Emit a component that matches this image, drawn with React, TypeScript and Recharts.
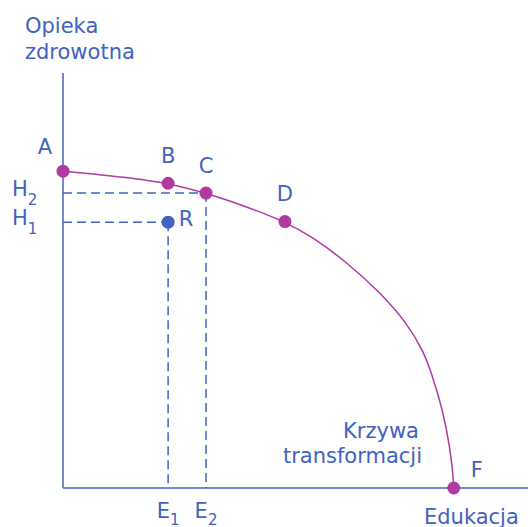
import React from "react";
import {
  ComposedChart,
  Line,
  Scatter,
  XAxis,
  YAxis,
  ReferenceLine,
} from "recharts";

// Curve (krzywa transformacji)
const curveX = [0, 9.5, 17.9, 26.9, 36.6, 46.5, 56.8, 63.9, 72.6, 81.1, 88.0, 92.1, 94.3, 97.2, 99.0, 99.8, 100];
const curveY = [100, 98.9, 97.8, 96.2, 93.1, 89.0, 84.1, 79.2, 71.3, 61.8, 52.1, 43.5, 36.4, 24.6, 12.9, 4.5, 0];

const pointNames = ["A", "B", "C", "D", "F"];
const pointX = [0, 26.9, 36.6, 56.8, 100];
const pointY = [100, 96.2, 93.1, 84.1, 0];

const innerName = "R";
const innerX = 26.9;
const innerY = 83.9;

const xTickLabels = ["E", "E"];
const xTickSubs = ["1", "2"];
const yTickLabels = ["H", "H"];
const yTickSubs = ["1", "2"];

const BLUE = "#4262bf";
const PURPLE = "#b03aa2";
const FONT = "DejaVu Sans, sans-serif";

const curveData = curveX.map((x, i) => ({ x, y: curveY[i] }));
const pointData = pointNames.map((name, i) => ({ name, x: pointX[i], y: pointY[i] }));
const innerData = [{ name: innerName, x: innerX, y: innerY }];

const labelOffset: Record<string, [number, number]> = {
  A: [-18, -17],
  B: [0, -20],
  C: [0, -20],
  D: [0, -21],
  F: [23, -11],
  R: [18, 4],
};

const makeShape = (color: string) => (props: any) => {
  const { cx, cy, payload } = props;
  const off = labelOffset[payload.name] || [0, -18];
  return (
    <g>
      <circle cx={cx} cy={cy} r={6.5} fill={color} />
      <text
        x={cx + off[0]}
        y={cy + off[1]}
        textAnchor="middle"
        fill={BLUE}
        fontSize={21}
        fontFamily={FONT}
      >
        {payload.name}
      </text>
    </g>
  );
};

const XTick = (props: any) => {
  const { x, y, index } = props;
  return (
    <text x={x} y={y + 30} textAnchor="middle" fill={BLUE} fontSize={21} fontFamily={FONT}>
      {xTickLabels[index]}
      <tspan dy={7} fontSize={15}>{xTickSubs[index]}</tspan>
    </text>
  );
};

const YTick = (props: any) => {
  const { x, y, index } = props;
  return (
    <text x={x - 51} y={y + 3} textAnchor="start" fill={BLUE} fontSize={21} fontFamily={FONT}>
      {yTickLabels[index]}
      <tspan dy={9} fontSize={15}>{yTickSubs[index]}</tspan>
    </text>
  );
};

export default function App() {
  return (
    <div style={{ position: "absolute", left: 0, top: 0, width: 528, height: 527, overflow: "hidden", fontFamily: FONT }}>
      <ComposedChart
        width={528}
        height={527}
        data={curveData}
        margin={{ top: 73, right: 0, bottom: 0, left: 8 }}
      >
        <XAxis
          type="number"
          dataKey="x"
          domain={[0, 119]}
          ticks={[innerX, pointX[2]]}
          tick={<XTick />}
          tickLine={false}
          tickSize={0}
          tickMargin={0}
          height={39}
          axisLine={{ stroke: BLUE, strokeWidth: 1.5 }}
        />
        <YAxis
          type="number"
          domain={[0, 131]}
          ticks={[innerY, pointY[2]]}
          tick={<YTick />}
          tickLine={false}
          tickSize={0}
          tickMargin={0}
          width={55}
          axisLine={{ stroke: BLUE, strokeWidth: 1.5 }}
        />
        <ReferenceLine
          segment={[{ x: 0, y: pointY[2] }, { x: pointX[2], y: pointY[2] }]}
          stroke={BLUE}
          strokeWidth={1.5}
          strokeDasharray="9 5"
          ifOverflow="visible"
        />
        <ReferenceLine
          segment={[{ x: pointX[2], y: pointY[2] }, { x: pointX[2], y: 0 }]}
          stroke={BLUE}
          strokeWidth={1.5}
          strokeDasharray="9 5"
          ifOverflow="visible"
        />
        <ReferenceLine
          segment={[{ x: 0, y: innerY }, { x: innerX, y: innerY }]}
          stroke={BLUE}
          strokeWidth={1.5}
          strokeDasharray="9 5"
          ifOverflow="visible"
        />
        <ReferenceLine
          segment={[{ x: innerX, y: innerY }, { x: innerX, y: 0 }]}
          stroke={BLUE}
          strokeWidth={1.5}
          strokeDasharray="9 5"
          ifOverflow="visible"
        />
        <Line
          type="basis"
          dataKey="y"
          stroke={PURPLE}
          strokeWidth={1.5}
          dot={false}
          activeDot={false}
          isAnimationActive={false}
        />
        <Scatter data={pointData} dataKey="y" shape={makeShape(PURPLE)} isAnimationActive={false} />
        <Scatter data={innerData} dataKey="y" shape={makeShape(BLUE)} isAnimationActive={false} />
      </ComposedChart>
      <svg
        width={528}
        height={527}
        style={{ position: "absolute", left: 0, top: 0, pointerEvents: "none" }}
      >
        <g fill={BLUE} fontSize={21} fontFamily={FONT}>
          <text x={25} y={33}>Opieka</text>
          <text x={25} y={59}>zdrowotna</text>
          <text x={419} y={438} textAnchor="end">Krzywa</text>
          <text x={422} y={463} textAnchor="end">transformacji</text>
          <text x={424} y={524}>Edukacja</text>
        </g>
      </svg>
    </div>
  );
}
